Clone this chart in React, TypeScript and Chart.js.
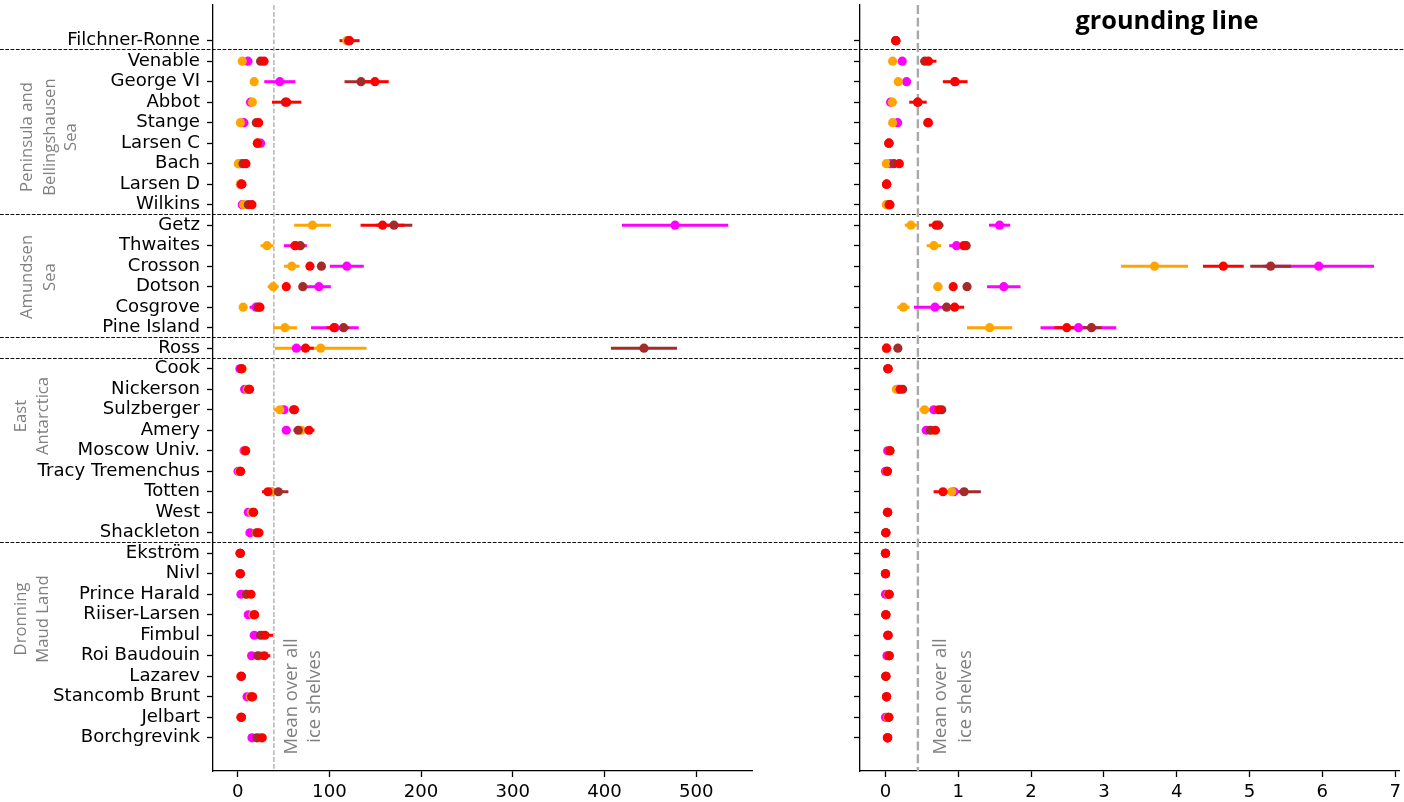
import React, { useEffect, useRef } from 'react';
import { Chart, registerables } from 'chart.js';
Chart.register(...registerables);

const shelves = [
  'Filchner-Ronne', 'Venable', 'George VI', 'Abbot', 'Stange', 'Larsen C', 'Bach', 'Larsen D', 'Wilkins',
  'Getz', 'Thwaites', 'Crosson', 'Dotson', 'Cosgrove', 'Pine Island',
  'Ross',
  'Cook', 'Nickerson', 'Sulzberger', 'Amery', 'Moscow Univ.', 'Tracy Tremenchus', 'Totten', 'West', 'Shackleton',
  'Ekström', 'Nivl', 'Prince Harald', 'Riiser-Larsen', 'Fimbul', 'Roi Baudouin', 'Lazarev', 'Stancomb Brunt', 'Jelbart', 'Borchgrevink',
];

// boundaries between regions (in row units)
const groupBoundaries = [0.43, 8.43, 14.45, 15.5, 24.45];
const groupLines = [
  ['Peninsula and', 'Bellingshausen', 'Sea'],
  ['Amundsen', 'Sea'],
  ['East', 'Antarctica'],
  ['Dronning', 'Maud Land'],
];
const meanLabel = ['Mean over all', 'ice shelves'];
const rightTitle = 'grounding line';

const seriesColors = ['#FF00FF', '#FFA500', '#A52A2A', '#FF0000'];

// ---- Left panel: whole ice shelf ----
const meltMean = 39.5;
const meltXTicks = [0, 100, 200, 300, 400, 500];
const meltMagenta = [120, 11.2, 46, 14, 6.9, 25, 2, 3, 5, 476.9, 63, 119, 88.6, 20, 106, 64, 2.4, 7.6, 50.5, 53, 7, 0.4, 37, 11.6, 13.4, 2.5, 2.5, 3.6, 11.6, 18.1, 15.2, 3.5, 10.2, 3.5, 15.6];
const meltMagentaErr = [1, 1.5, 17, 2, 1, 1, 1, 1, 1, 58, 12.5, 18.5, 13, 7, 26, 5, 1, 1, 4, 3, 1, 1, 4, 1, 1, 1, 1, 1, 1, 1, 1, 1, 1, 1, 1];
const meltOrange = [119, 5, 18, 16, 3, 22, 0.7, 3, 6.5, 81.6, 32, 59, 38.7, 6, 51.6, 90.5, 5, 10.5, 46, 69.4, 8, 2, 36.7, 15, 20.3, 2.5, 2.5, 9.4, 16.7, 27.6, 24.3, 3.5, 13.8, 3.5, 24];
const meltOrangeErr = [3, 1.5, 1.5, 1.5, 1, 1, 1, 1, 1, 20, 7, 8.5, 6, 1.5, 13, 50, 1, 1, 6.5, 3, 1, 1, 5, 1, 1, 1, 1, 1.5, 1.5, 3, 3, 1, 1, 1, 2];
const meltBrown = [121, 25, 134.5, 52, 20.3, 22, 5.8, 4, 11.6, 170.4, 68.3, 91.3, 71, 22.5, 115.5, 443, 4, 12, 61, 66, 8.5, 3, 44.3, 17, 21, 2.9, 2.9, 9.5, 18, 25, 22, 4, 15, 4, 21];
const meltBrownErr = [1, 2, 18, 2, 1, 1, 1, 1, 1, 20, 5, 3, 3, 2, 6, 36, 1, 1, 2, 5, 1, 1, 11, 1, 1, 1, 1, 1, 1, 4, 3, 1, 1, 1, 3];
const meltRed = [122, 28.7, 149.7, 53.4, 22.9, 21.4, 9, 4.7, 15.6, 158, 62.5, 78.8, 53, 24.3, 105, 74, 4.3, 13, 62, 77.7, 8.7, 3.2, 33, 17.4, 23.2, 2.9, 2.9, 14.5, 18.5, 29.8, 29, 4, 16.3, 4, 26.8];
const meltRedErr = [11, 4, 15, 16, 2, 1.5, 1.5, 1, 2, 24, 5, 3, 3, 3, 8, 9, 1, 1.5, 3, 6, 1, 1, 6.5, 1.5, 2, 1, 1, 2, 2, 8.7, 6.6, 1, 2, 1, 4];

// ---- Right panel: grounding line ----
const glMean = 0.445;
const glXTicks = [0, 1, 2, 3, 4, 5, 6, 7];
const glMagenta = [0.14, 0.23, 0.29, 0.07, 0.167, 0.045, 0.07, 0.016, 0.03, 1.567, 0.975, 5.95, 1.625, 0.68, 2.65, 0.015, 0.03, 0.17, 0.665, 0.56, 0.03, 0.0, 0.94, 0.025, 0.005, 0.0, 0.0, 0.0, 0.005, 0.03, 0.02, 0.005, 0.015, 0.0, 0.025];
const glMagentaErr = [0.01, 0.02, 0.02, 0.01, 0.01, 0.01, 0.01, 0.01, 0.01, 0.145, 0.1, 0.76, 0.23, 0.29, 0.52, 0.01, 0.01, 0.01, 0.03, 0.02, 0.01, 0.01, 0.05, 0.01, 0.01, 0.01, 0.01, 0.01, 0.01, 0.01, 0.01, 0.01, 0.01, 0.01, 0.01];
const glOrange = [0.14, 0.098, 0.176, 0.094, 0.098, 0.045, 0.011, 0.016, 0.011, 0.35, 0.665, 3.695, 0.72, 0.246, 1.43, 0.015, 0.035, 0.15, 0.537, 0.65, 0.06, 0.02, 0.91, 0.03, 0.005, 0.0, 0.0, 0.04, 0.005, 0.035, 0.05, 0.005, 0.015, 0.03, 0.03];
const glOrangeErr = [0.01, 0.01, 0.01, 0.01, 0.01, 0.01, 0.01, 0.01, 0.01, 0.085, 0.1, 0.46, 0.06, 0.085, 0.31, 0.01, 0.01, 0.01, 0.07, 0.02, 0.01, 0.01, 0.05, 0.01, 0.01, 0.01, 0.01, 0.01, 0.01, 0.01, 0.01, 0.01, 0.01, 0.01, 0.01];
const glBrown = [0.14, 0.54, 0.95, 0.44, 0.58, 0.048, 0.117, 0.016, 0.05, 0.73, 1.108, 5.29, 1.12, 0.84, 2.83, 0.17, 0.035, 0.236, 0.773, 0.616, 0.06, 0.025, 1.08, 0.03, 0.005, 0.0, 0.0, 0.05, 0.005, 0.035, 0.05, 0.005, 0.015, 0.045, 0.03];
const glBrownErr = [0.01, 0.05, 0.01, 0.01, 0.01, 0.01, 0.01, 0.01, 0.01, 0.05, 0.02, 0.28, 0.02, 0.02, 0.14, 0.01, 0.01, 0.01, 0.01, 0.01, 0.01, 0.01, 0.23, 0.01, 0.01, 0.01, 0.01, 0.01, 0.01, 0.01, 0.01, 0.01, 0.01, 0.01, 0.01];
const glRed = [0.144, 0.59, 0.958, 0.446, 0.59, 0.048, 0.19, 0.016, 0.062, 0.695, 1.074, 4.64, 0.93, 0.95, 2.49, 0.015, 0.035, 0.2, 0.73, 0.685, 0.06, 0.025, 0.79, 0.03, 0.005, 0.0, 0.0, 0.05, 0.005, 0.035, 0.05, 0.005, 0.015, 0.045, 0.03];
const glRedErr = [0.01, 0.11, 0.17, 0.12, 0.01, 0.01, 0.01, 0.01, 0.01, 0.1, 0.03, 0.28, 0.02, 0.13, 0.17, 0.01, 0.01, 0.01, 0.03, 0.06, 0.01, 0.01, 0.13, 0.01, 0.01, 0.01, 0.01, 0.01, 0.01, 0.01, 0.01, 0.01, 0.01, 0.01, 0.01];

const TICK_FONT = { family: 'DejaVu Sans', size: 18.1 };
const GREY_TEXT = '#808080';

type PanelOpts = {
  canvas: HTMLCanvasElement;
  values: number[][];
  errs: number[][];
  xmin: number;
  xmax: number;
  xticks: number[];
  mean: number;
  meanWidth: number;
  meanDash: number[];
  meanTextOffsets: number[];
  yAxisWidth: number;
  padRight: number;
  showLabels: boolean;
  extraDraw?: (chart: any) => void;
};

function makePanel(o: PanelOpts) {
  const decor = {
    id: 'decor',
    beforeDatasetsDraw(chart: any) {
      const ctx = chart.ctx;
      const { top, bottom } = chart.chartArea;
      const xs = chart.scales.x;
      const ys = chart.scales.y;
      ctx.save();
      // region separators
      ctx.strokeStyle = '#111';
      ctx.lineWidth = 1;
      ctx.setLineDash([3.7, 1.6]);
      for (const b of groupBoundaries) {
        const y = Math.round(ys.getPixelForValue(b)) + 0.5;
        ctx.beginPath();
        ctx.moveTo(0, y);
        ctx.lineTo(chart.width, y);
        ctx.stroke();
      }
      // mean line
      const mx = xs.getPixelForValue(o.mean);
      ctx.strokeStyle = '#A9A9A9';
      ctx.lineWidth = o.meanWidth;
      ctx.setLineDash(o.meanDash);
      ctx.beginPath();
      ctx.moveTo(mx, top);
      ctx.lineTo(mx, bottom);
      ctx.stroke();
      // error bars
      ctx.setLineDash([]);
      ctx.lineWidth = 3;
      ctx.lineCap = 'butt';
      o.values.forEach((vals, k) => {
        ctx.strokeStyle = seriesColors[k];
        vals.forEach((v, i) => {
          const e = o.errs[k][i];
          if (v == null || !e) return;
          const y = ys.getPixelForValue(i);
          ctx.beginPath();
          ctx.moveTo(xs.getPixelForValue(v - e), y);
          ctx.lineTo(xs.getPixelForValue(v + e), y);
          ctx.stroke();
        });
      });
      ctx.restore();
    },
    afterDraw(chart: any) {
      const ctx = chart.ctx;
      const xs = chart.scales.x;
      const mx = xs.getPixelForValue(o.mean);
      ctx.save();
      ctx.fillStyle = GREY_TEXT;
      ctx.font = '18.5px "Open Sans"';
      ctx.textAlign = 'center';
      ctx.textBaseline = 'middle';
      meanLabel.forEach((line, j) => {
        ctx.save();
        ctx.translate(mx + o.meanTextOffsets[j], 696.5);
        ctx.rotate(-Math.PI / 2);
        ctx.fillText(line, 0, 0);
        ctx.restore();
      });
      ctx.restore();
      if (o.extraDraw) o.extraDraw(chart);
    },
  };

  const n = o.values.length;
  const datasets = o.values.map((vals, k) => ({
    label: 's' + k,
    data: vals.map((v, i) => ({ x: v, y: i })),
    order: n - 1 - k,
    backgroundColor: seriesColors[k],
    borderColor: seriesColors[k],
    borderWidth: 0,
    pointRadius: 4.6,
    pointHoverRadius: 4.6,
    pointBorderWidth: 0,
    showLine: false,
  }));

  return new Chart(o.canvas, {
    type: 'scatter',
    data: { datasets },
    options: {
      animation: false,
      responsive: false,
      events: [],
      layout: { padding: { left: 0, top: 5, right: o.padRight, bottom: 0 } },
      plugins: { legend: { display: false }, tooltip: { enabled: false }, title: { display: false } },
      scales: {
        x: {
          type: 'linear',
          position: 'bottom',
          min: o.xmin,
          max: o.xmax,
          afterBuildTicks: (s: any) => {
            s.ticks = o.xticks.map((v) => ({ value: v }));
          },
          afterFit: (s: any) => {
            s.height = 31;
            s.paddingLeft = 0;
            s.paddingRight = 0;
          },
          grid: { drawOnChartArea: false, drawTicks: true, tickLength: 6, tickWidth: 1.3, tickColor: '#000' },
          border: { display: true, color: '#000', width: 1.3 },
          ticks: {
            font: TICK_FONT,
            color: '#000',
            padding: 4,
            maxRotation: 0,
            autoSkip: false,
            callback: (v: any) => String(v),
          },
        },
        y: {
          type: 'linear',
          reverse: true,
          min: -1.74,
          max: 35.62,
          afterBuildTicks: (s: any) => {
            s.ticks = shelves.map((_, i) => ({ value: i }));
          },
          afterFit: (s: any) => {
            s.width = o.yAxisWidth;
            s.paddingTop = 0;
            s.paddingBottom = 0;
          },
          grid: { drawOnChartArea: false, drawTicks: true, tickLength: 6, tickWidth: 1.3, tickColor: '#000' },
          border: { display: true, color: '#000', width: 1.3 },
          ticks: {
            font: TICK_FONT,
            color: '#000',
            padding: 7,
            autoSkip: false,
            callback: (v: any) => (o.showLabels ? shelves[Math.round(v)] : ''),
          },
        },
      },
    } as any,
    plugins: [decor],
  });
}

const groupLayout = [
  { y: 137, xs: [27.5, 50, 71.5] },
  { y: 277, xs: [27, 50] },
  { y: 416, xs: [21.7, 43] },
  { y: 619, xs: [21.7, 43] },
];

export default function App() {
  const leftRef = useRef<HTMLCanvasElement>(null);
  const rightRef = useRef<HTMLCanvasElement>(null);

  useEffect(() => {
    const left = makePanel({
      canvas: leftRef.current!,
      values: [meltMagenta, meltOrange, meltBrown, meltRed],
      errs: [meltMagentaErr, meltOrangeErr, meltBrownErr, meltRedErr],
      xmin: -26.9,
      xmax: 560.8,
      xticks: meltXTicks,
      mean: meltMean,
      meanWidth: 1.3,
      meanDash: [4.8, 2.1],
      meanTextOffsets: [18, 41],
      yAxisWidth: 213,
      padRight: 54,
      showLabels: true,
      extraDraw: (chart: any) => {
        const ctx = chart.ctx;
        ctx.save();
        ctx.fillStyle = GREY_TEXT;
        ctx.font = '16.7px "Open Sans"';
        ctx.textAlign = 'center';
        ctx.textBaseline = 'middle';
        groupLines.forEach((lines, g) => {
          lines.forEach((line, j) => {
            ctx.save();
            ctx.translate(groupLayout[g].xs[j], groupLayout[g].y);
            ctx.rotate(-Math.PI / 2);
            ctx.fillText(line, 0, 0);
            ctx.restore();
          });
        });
        ctx.restore();
      },
    });
    const right = makePanel({
      canvas: rightRef.current!,
      values: [glMagenta, glOrange, glBrown, glRed],
      errs: [glMagentaErr, glOrangeErr, glBrownErr, glRedErr],
      xmin: -0.35,
      xmax: 7.058,
      xticks: glXTicks,
      mean: glMean,
      meanWidth: 2.4,
      meanDash: [8.9, 3.8],
      meanTextOffsets: [23, 48],
      yAxisWidth: 54,
      padRight: 4,
      showLabels: false,
      extraDraw: (chart: any) => {
        const ctx = chart.ctx;
        ctx.save();
        ctx.fillStyle = '#000';
        ctx.font = 'bold 25.3px "Open Sans"';
        ctx.textAlign = 'center';
        ctx.textBaseline = 'alphabetic';
        ctx.fillText(rightTitle, 361, 29);
        ctx.restore();
      },
    });
    return () => {
      left.destroy();
      right.destroy();
    };
  }, []);

  return (
    <div style={{ position: 'fixed', left: 0, top: 0, width: 1404, height: 802, background: '#fff' }}>
      <canvas ref={leftRef} width={806} height={802} style={{ position: 'absolute', left: 0, top: 0 }} />
      <canvas ref={rightRef} width={598} height={802} style={{ position: 'absolute', left: 806, top: 0 }} />
    </div>
  );
}
